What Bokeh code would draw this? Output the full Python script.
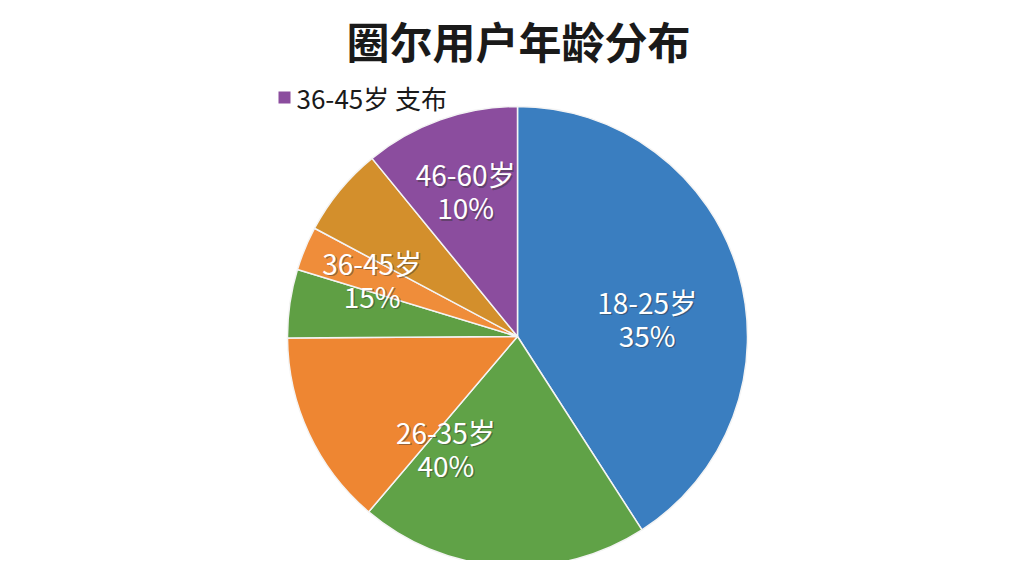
import math
from bokeh.plotting import figure
from bokeh.models import Range1d, ColumnDataSource
from bokeh.core.properties import value
from bokeh.embed import file_html
from bokeh.resources import INLINE

# ---------------- data ----------------
title_text = "圈尔用户年龄分布"
legend_text = "36-45岁 支布"

# wedge shares (percent of the full circle, clockwise from 12 o'clock)
slice_values = [40.9, 20.3, 13.7, 4.8, 3.1, 6.3, 10.9]
slice_colors = ["#3a7ec0", "#60a247", "#ee8632", "#5f9f44", "#ef8d3a", "#d38f2c", "#8b4d9e"]

# printed labels
label_names = ["18-25岁", "26-35岁", "36-45岁", "46-60岁"]
label_pcts = ["35%", "40%", "15%", "10%"]

# ---------------- layout (styles / positions) ----------------
W, H = 1008, 560
OX, OY = 0, 0                      # page offset of the plot canvas
CX, CY, R = 517, 336, 230          # pie centre and radius in page pixels
label_angle_deg = [81.7, 212.7, 291.7, 340.5]   # clockwise from top
label_radius = [0.57, 0.576, 0.68, 0.675]

FONT = "Noto Sans CJK SC"


def X(px):
    return (px - CX) / R


def Y(py):
    return (CY - py) / R


p = figure(width=W, height=H, output_backend="svg", toolbar_location=None,
           x_range=Range1d(X(OX), X(OX + W)), y_range=Range1d(Y(OY + H), Y(OY)),
           x_axis_type=None, y_axis_type=None, min_border=0,
           outline_line_color=None, background_fill_color="white",
           border_fill_color="white")
p.grid.visible = False

# wedges
total = sum(slice_values)
starts, ends = [], []
acc = 0.0
for v in slice_values:
    t0 = acc / total * 2 * math.pi
    acc += v
    t1 = acc / total * 2 * math.pi
    # bokeh angles: anticlockwise from +x
    starts.append(math.pi / 2 - t1)
    ends.append(math.pi / 2 - t0)

src = ColumnDataSource(dict(start=starts, end=ends, color=slice_colors))
p.wedge(x=0, y=0, radius=1, start_angle="start", end_angle="end",
        fill_color="color", line_color="#f4f4f4", line_width=1.5, source=src)

# labels (two lines each)
lx, ly = [], []
for a, r in zip(label_angle_deg, label_radius):
    th = math.radians(a)
    lx.append(r * math.sin(th))
    ly.append(r * math.cos(th))

lsrc = ColumnDataSource(dict(x=lx, y=ly, n=label_names, v=label_pcts))
for col, dy in (("n", -16), ("v", 17)):
    p.text(x="x", y="y", text=col, source=lsrc, text_font=value(FONT),
           text_font_size="28px", text_color="#333333", text_alpha=0.45,
           text_align="center", text_baseline="middle",
           x_offset=1.5, y_offset=dy + 1.5)
    p.text(x="x", y="y", text=col, source=lsrc, text_font=value(FONT),
           text_font_size="28px", text_color="white",
           text_align="center", text_baseline="middle", y_offset=dy)

# title
p.text(x=[X(518)], y=[Y(39)], text=[title_text], text_font=value(FONT),
       text_font_size="43px", text_font_style="bold", text_color="#1a1a1a",
       text_align="center", text_baseline="middle")

# legend
p.rect(x=[X(284)], y=[Y(97)], width=12, height=12, width_units="screen",
       height_units="screen", fill_color=slice_colors[-1], line_color=None)
p.text(x=[X(296)], y=[Y(97)], text=[legend_text], text_font=value(FONT),
       text_font_size="26px", text_color="#1a1a1a",
       text_align="left", text_baseline="middle")

open("out.html", "w").write(file_html(p, INLINE))
